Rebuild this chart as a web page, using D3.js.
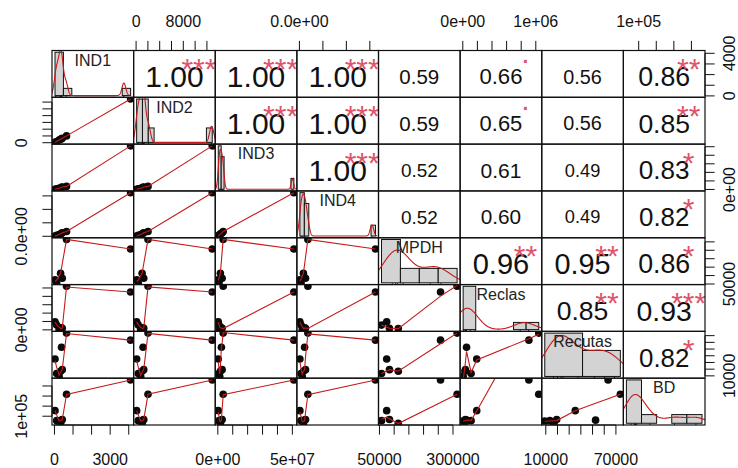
<!DOCTYPE html>
<html>
<head>
<meta charset="utf-8">
<script src="https://cdn.jsdelivr.net/npm/d3@7"></script>
<style>
  body { margin: 0; background: #fff; }
  svg { display: block; }
  text { font-family: "Liberation Sans", Arial, sans-serif; }
</style>
</head>
<body>
<svg id="chart" width="738" height="468"></svg>
<script>
// ---- variables (8 observations, MPDH has two missing values) ----
const variables = ["IND1", "IND2", "IND3", "IND4", "MPDH", "Reclas", "Recutas", "BD"];
const IND1    = [30, 120, 250, 330, 380, 420, 650, 4100];
const IND2    = [95, 370, 780, 1020, 1180, 1300, 2020, 12900];
const IND3    = [3.0e5, 8.0e5, 1.3e6, 1.7e6, 2.4e6, 2.9e6, 3.6e6, 5.1e7];
const IND4    = [1.0e6, 3.5e6, 6.0e6, 8.5e6, 1.1e7, 1.3e7, 1.8e7, 1.62e8];
const MPDH    = [74600, 57000, null, 114000, null, 84000, 314000, 257700];
const Reclas  = [191000, 114000, 5000, 30000, 51500, 36000, 1040000, 905000];
const Recutas = [35200, 13480, 9130, 17000, 52600, 19300, 73800, 63300];
const BD      = [155000, 56000, 52000, 30000, 61000, 68000, 318000, 460000];

// ---- correlations shown in the upper panels (row by row) ----
const corIND1    = [1.00, 1.00, 1.00, 0.59, 0.66, 0.56, 0.86];
const corIND2    = [1.00, 1.00, 0.59, 0.65, 0.56, 0.85];
const corIND3    = [1.00, 0.52, 0.61, 0.49, 0.83];
const corIND4    = [0.52, 0.60, 0.49, 0.82];
const corMPDH    = [0.96, 0.95, 0.86];
const corReclas  = [0.85, 0.93];
const corRecutas = [0.82];
const starsIND1    = ["***", "***", "***", "", ".", "", "**"];
const starsIND2    = ["***", "***", "", ".", "", "**"];
const starsIND3    = ["***", "", "", "", "*"];
const starsIND4    = ["", "", "", "*"];
const starsMPDH    = ["**", "**", "*"];
const starsReclas  = ["**", "***"];
const starsRecutas = ["*"];

// ---- histogram breaks: [start, stop, step] ----
const breaksIND1    = [0, 4500, 500];
const breaksIND2    = [0, 13000, 1000];
const breaksIND3    = [0, 5.2e7, 2e6];
const breaksIND4    = [0, 1.7e8, 1e7];
const breaksMPDH    = [0, 4e5, 1e5];
const breaksReclas  = [0, 1.2e6, 2e5];
const breaksRecutas = [0, 8e4, 4e4];
const breaksBD      = [0, 5e5, 1e5];

// ---- axis ticks and printed tick labels ----
const ticksIND1    = [0, 1000, 2000, 3000, 4000];
const ticksIND2    = [0, 2000, 4000, 6000, 8000, 10000, 12000];
const ticksIND3    = [0, 1e7, 2e7, 3e7, 4e7, 5e7];
const ticksIND4    = [0, 5e7, 1e8, 1.5e8];
const ticksMPDH    = [50000, 100000, 150000, 200000, 250000, 300000];
const ticksReclas  = [0, 2e5, 4e5, 6e5, 8e5, 1e6];
const ticksRecutas = [10000, 20000, 30000, 40000, 50000, 60000, 70000];
const ticksBD      = [1e5, 2e5, 3e5, 4e5];

const labelsIND1Bottom    = [[0, "0"], [3000, "3000"]];
const labelsIND1Right     = [[0, "0"], [4000, "4000"]];
const labelsIND2Top       = [[0, "0"], [8000, "8000"]];
const labelsIND2Left      = [[0, "0"]];
const labelsIND3Bottom    = [[0, "0e+00"], [5e7, "5e+07"]];
const labelsIND3Right     = [[0, "0e+00"]];
const labelsIND4Top       = [[0, "0.0e+00"]];
const labelsIND4Left      = [[0, "0.0e+00"]];
const labelsMPDHBottom    = [[50000, "50000"], [300000, "300000"]];
const labelsMPDHRight     = [[50000, "50000"]];
const labelsReclasTop     = [[0, "0e+00"], [1e6, "1e+06"]];
const labelsReclasLeft    = [[0, "0e+00"]];
const labelsRecutasBottom = [[10000, "10000"], [70000, "70000"]];
const labelsRecutasRight  = [[10000, "10000"]];
const labelsBDTop         = [[1e5, "1e+05"]];
const labelsBDLeft        = [[1e5, "1e+05"]];

// ---- tables built from the arrays above ----
const columns = [IND1, IND2, IND3, IND4, MPDH, Reclas, Recutas, BD];
const corRows = [corIND1, corIND2, corIND3, corIND4, corMPDH, corReclas, corRecutas];
const starRows = [starsIND1, starsIND2, starsIND3, starsIND4, starsMPDH, starsReclas, starsRecutas];
const breaks = [breaksIND1, breaksIND2, breaksIND3, breaksIND4, breaksMPDH, breaksReclas, breaksRecutas, breaksBD];
const ticks = [ticksIND1, ticksIND2, ticksIND3, ticksIND4, ticksMPDH, ticksReclas, ticksRecutas, ticksBD];
// outer labels: odd variables on bottom/right, even variables on top/left
const xLabels = [labelsIND1Bottom, labelsIND2Top, labelsIND3Bottom, labelsIND4Top, labelsMPDHBottom, labelsReclasTop, labelsRecutasBottom, labelsBDTop];
const yLabels = [labelsIND1Right, labelsIND2Left, labelsIND3Right, labelsIND4Left, labelsMPDHRight, labelsReclasLeft, labelsRecutasRight, labelsBDLeft];

// ---- layout ----
const L = 52, R = 705, T = 50.5, B = 425, N = variables.length;
const cw = (R - L) / N, ch = (B - T) / N;
const baseCex = 30;         // font size of a correlation of 1
const tickLen = 9.6, axisFont = 16;
const ink = "#111", smoothCol = "#c41a1a", starCol = "#DF536B";

const svg = d3.select("#chart");
const defs = svg.append("defs");

const isNum = v => v !== null && isFinite(v);
function padded(vals, r0, r1) {
  const e = d3.extent(vals.filter(isNum));
  const p = (e[1] - e[0]) * 0.04;
  return d3.scaleLinear().domain([e[0] - p, e[1] + p]).range([r0, r1]);
}
const xs = columns.map((v, j) => padded(v, L + j * cw, L + (j + 1) * cw));
const ys = columns.map((v, i) => padded(v, T + (i + 1) * ch, T + i * ch));

// ---- R-style lowess (clowess) ----
function lowess(xIn, yIn, f = 2 / 3, nsteps = 3) {
  const order = d3.range(xIn.length).sort((a, b) => xIn[a] - xIn[b]);
  const x = order.map(k => xIn[k]), y = order.map(k => yIn[k]);
  const n = x.length;
  if (n < 2) return { x, y: y.slice() };
  const delta = 0.01 * (x[n - 1] - x[0]);
  const fit = new Array(n).fill(0), rw = new Array(n).fill(1), res = new Array(n).fill(0), w = new Array(n).fill(0);
  const ns = Math.max(2, Math.min(n, Math.floor(f * n + 1e-7)));
  const range = x[n - 1] - x[0];
  function lowest(xsv, nleft, nright, userw) {
    const h = Math.max(xsv - x[nleft], x[nright] - xsv);
    const h9 = 0.999 * h, h1 = 0.001 * h;
    let a = 0, j = nleft;
    while (j < n) {
      w[j] = 0;
      const r = Math.abs(x[j] - xsv);
      if (r <= h9) {
        w[j] = r <= h1 ? 1 : Math.pow(1 - Math.pow(r / h, 3), 3);
        if (userw) w[j] *= rw[j];
        a += w[j];
      } else if (x[j] > xsv) break;
      j++;
    }
    const nrt = j - 1;
    if (a <= 0) return null;
    for (j = nleft; j <= nrt; j++) w[j] /= a;
    if (h > 0) {
      a = 0;
      for (j = nleft; j <= nrt; j++) a += w[j] * x[j];
      let b = xsv - a, c = 0;
      for (j = nleft; j <= nrt; j++) c += w[j] * (x[j] - a) * (x[j] - a);
      if (Math.sqrt(c) > 0.001 * range) {
        b /= c;
        for (j = nleft; j <= nrt; j++) w[j] *= (b * (x[j] - a) + 1);
      }
    }
    let v = 0;
    for (j = nleft; j <= nrt; j++) v += w[j] * y[j];
    return v;
  }
  let iter = 1;
  while (iter <= nsteps + 1) {
    let nleft = 0, nright = ns - 1, last = -1, i = 0;
    for (;;) {
      if (nright < n - 1) {
        const d1 = x[i] - x[nleft], d2 = x[nright + 1] - x[i];
        if (d1 > d2) { nleft++; nright++; continue; }
      }
      const v = lowest(x[i], nleft, nright, iter > 1);
      fit[i] = v === null ? y[i] : v;
      if (last < i - 1) {
        const denom = x[i] - x[last];
        for (let j = last + 1; j < i; j++) {
          const alpha = (x[j] - x[last]) / denom;
          fit[j] = alpha * fit[i] + (1 - alpha) * fit[last];
        }
      }
      last = i;
      const cut = x[last] + delta;
      for (i = last + 1; i < n; i++) {
        if (x[i] > cut) break;
        if (x[i] === x[last]) { fit[i] = fit[last]; last = i; }
      }
      i = Math.max(last + 1, i - 1);
      if (last >= n - 1) break;
    }
    for (let k = 0; k < n; k++) res[k] = y[k] - fit[k];
    const sc = d3.sum(res, Math.abs) / n;
    if (iter > nsteps) break;
    const ar = res.map(Math.abs);
    const sorted = ar.slice().sort((a, b) => a - b);
    const m1 = Math.floor(n / 2);
    const cmad = n % 2 === 0 ? 3 * (sorted[m1] + sorted[n - m1 - 1]) : 6 * sorted[m1];
    if (cmad < 1e-7 * sc) break;
    const c9 = 0.999 * cmad, c1 = 0.001 * cmad;
    for (let k = 0; k < n; k++) {
      const r = ar[k];
      rw[k] = r <= c1 ? 1 : (r <= c9 ? Math.pow(1 - Math.pow(r / cmad, 2), 2) : 0);
    }
    iter++;
  }
  return { x, y: fit };
}

// ---- gaussian kernel density with R's default bandwidth ----
function density(vals) {
  const x = vals.slice().sort((a, b) => a - b);
  const n = x.length;
  const hi = d3.deviation(x);
  let lo = Math.min(hi, (d3.quantile(x, 0.75) - d3.quantile(x, 0.25)) / 1.34);
  if (!lo) lo = hi || Math.abs(x[0]) || 1;
  const bw = 0.9 * lo * Math.pow(n, -0.2);
  const from = x[0] - 3 * bw, to = x[n - 1] + 3 * bw;
  const pts = [];
  for (let k = 0; k < 512; k++) {
    const t = from + (to - from) * k / 511;
    let s = 0;
    for (const v of x) { const z = (t - v) / bw; s += Math.exp(-0.5 * z * z); }
    pts.push([t, s / (n * bw * Math.sqrt(2 * Math.PI))]);
  }
  return pts;
}

// ---- histogram counts, right-closed bins ----
function histogram(vals, br) {
  const edges = d3.range(br[0], br[1] + br[2] / 2, br[2]);
  const bins = [];
  for (let k = 0; k < edges.length - 1; k++) {
    const a = edges[k], b = edges[k + 1];
    const c = vals.filter(v => (k === 0 ? v >= a : v > a) && v <= b).length;
    bins.push({ x0: a, x1: b, d: c / (vals.length * (b - a)) });
  }
  return bins;
}

// ---- panels ----
for (let i = 0; i < N; i++) {
  for (let j = 0; j < N; j++) {
    const px = L + j * cw, py = T + i * ch;
    const id = `clip-${i}-${j}`;
    defs.append("clipPath").attr("id", id)
      .append("rect").attr("x", px).attr("y", py).attr("width", cw).attr("height", ch);
    const g = svg.append("g").attr("clip-path", `url(#${id})`);

    if (i > j) {
      // lower: scatter with lowess smooth
      const pts = columns[j].map((v, k) => [v, columns[i][k]]).filter(p => isNum(p[0]) && isNum(p[1]));
      g.selectAll("circle").data(pts).join("circle")
        .attr("cx", p => xs[j](p[0])).attr("cy", p => ys[i](p[1]))
        .attr("r", 3.8).attr("fill", "#0a0a0a");
      const sm = lowess(pts.map(p => p[0]), pts.map(p => p[1]));
      g.append("path")
        .attr("d", d3.line().x(d => xs[j](d[0])).y(d => ys[i](d[1]))(sm.x.map((v, k) => [v, sm.y[k]])))
        .attr("fill", "none").attr("stroke", smoothCol).attr("stroke-width", 1.1);
    } else if (i < j) {
      // upper: correlation value and significance stars
      const r = corRows[i][j - i - 1];
      const st = starRows[i][j - i - 1];
      const size = baseCex * (Math.abs(r) + 0.3) / 1.3;
      const cx = px + cw / 2, cy = py + ch / 2 + 2.5;
      g.append("text").attr("x", cx).attr("y", cy + 0.358 * size)
        .attr("text-anchor", "middle").attr("font-size", size).attr("fill", ink)
        .text(r.toFixed(2));
      if (st) {
        const sy = py + ch * 0.2 + 2;
        const off = st === "." ? 0.05 : 0.57;
        g.append("text").attr("x", px + cw * 0.8).attr("y", sy + off * baseCex)
          .attr("text-anchor", "middle").attr("font-size", baseCex).attr("fill", starCol)
          .text(st);
      }
    } else {
      // diagonal: histogram, density, rug and name
      const vals = columns[i].filter(isNum);
      const br = breaks[i];
      const bins = histogram(vals, br);
      const dens = density(vals);
      const span = br[1] - br[0];
      const hx = d3.scaleLinear().domain([br[0] - 0.04 * span, br[1] + 0.04 * span]).range([px, px + cw]);
      const maxD = d3.max(bins, b => b.d);
      const hy = d3.scaleLinear().domain([-0.04 * maxD, maxD * 1.04]).range([py + ch, py]);
      g.selectAll("rect.bar").data(bins).join("rect").attr("class", "bar")
        .attr("x", b => hx(b.x0)).attr("width", b => hx(b.x1) - hx(b.x0))
        .attr("y", b => hy(b.d)).attr("height", b => hy(0) - hy(b.d))
        .attr("fill", "#d3d3d3").attr("stroke", ink).attr("stroke-width", 1);
      g.append("path").attr("d", d3.line().x(d => hx(d[0])).y(d => hy(d[1]))(dens))
        .attr("fill", "none").attr("stroke", smoothCol).attr("stroke-width", 1.1);
      g.selectAll("line.rug").data(vals).join("line").attr("class", "rug")
        .attr("x1", v => hx(v)).attr("x2", v => hx(v))
        .attr("y1", py + ch).attr("y2", py + ch - 0.03 * ch)
        .attr("stroke", ink).attr("stroke-width", 1);
      g.append("text").attr("x", px + cw / 2).attr("y", py + 9.5 + 0.358 * 16)
        .attr("text-anchor", "middle").attr("font-size", 16).attr("fill", "#222")
        .text(variables[i]);
    }
    svg.append("rect").attr("x", px).attr("y", py).attr("width", cw).attr("height", ch)
      .attr("fill", "none").attr("stroke", ink).attr("stroke-width", 1.2);
  }
}

// ---- outer axes ----
const axes = svg.append("g").attr("stroke", ink).attr("fill", ink);
for (let k = 0; k < N; k++) {
  const xsc = xs[k], ysc = ys[k];
  const onBottom = k % 2 === 0;           // odd-numbered variables: bottom / right
  const yEdge = onBottom ? B : T;
  const dirY = onBottom ? 1 : -1;
  const tx = ticks[k];
  axes.append("line").attr("x1", xsc(tx[0])).attr("x2", xsc(tx[tx.length - 1]))
    .attr("y1", yEdge).attr("y2", yEdge).attr("stroke-width", 1);
  tx.forEach(v => axes.append("line").attr("x1", xsc(v)).attr("x2", xsc(v))
    .attr("y1", yEdge).attr("y2", yEdge + dirY * tickLen).attr("stroke-width", 1));
  xLabels[k].forEach(([v, s]) => {
    const cy = onBottom ? B + 34 : T - 29.5;
    axes.append("text").attr("x", xsc(v)).attr("y", cy + 0.358 * axisFont)
      .attr("text-anchor", "middle").attr("font-size", axisFont).attr("stroke", "none")
      .text(s);
  });

  const onRight = k % 2 === 0;
  const xEdge = onRight ? R : L;
  const dirX = onRight ? 1 : -1;
  axes.append("line").attr("y1", ysc(tx[0])).attr("y2", ysc(tx[tx.length - 1]))
    .attr("x1", xEdge).attr("x2", xEdge).attr("stroke-width", 1);
  tx.forEach(v => axes.append("line").attr("y1", ysc(v)).attr("y2", ysc(v))
    .attr("x1", xEdge).attr("x2", xEdge + dirX * tickLen).attr("stroke-width", 1));
  yLabels[k].forEach(([v, s]) => {
    const cx = onRight ? R + 24 : L - 30.5;
    axes.append("text").attr("transform", `translate(${cx},${ysc(v)}) rotate(-90)`)
      .attr("y", 0.358 * axisFont)
      .attr("text-anchor", "middle").attr("font-size", axisFont).attr("stroke", "none")
      .text(s);
  });
}
</script>
</body>
</html>
